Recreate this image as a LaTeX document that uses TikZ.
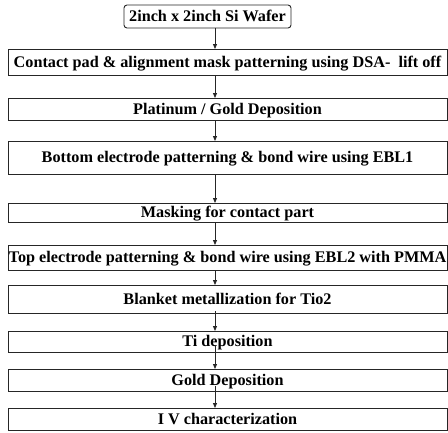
\documentclass[tikz,border=0pt]{standalone}
\usepackage{fontspec}
\setmainfont{Liberation Serif}
\usetikzlibrary{arrows.meta,calc}
\begin{document}
\begin{tikzpicture}[x=1pt,y=-1pt,
  every node/.style={font=\fontsize{16.2}{19}\selectfont\bfseries},
  stepbox/.style={draw=black!85, line width=0.9pt, inner sep=0pt, outer sep=0pt,
    minimum width=439pt, text height=10.7pt, text depth=0pt, align=center},
  startbox/.style={stepbox, minimum width=167pt, rounded corners=3pt},
  arr/.style={draw=black!85, line width=0.8pt, -{Triangle[length=5pt,width=4pt]}}]
\useasboundingbox (0,0) rectangle (448,432);
\coordinate (ax) at (215,0);
\node[startbox, minimum height=23pt] (wafer) at (207.5,16.5) {2inch x 2inch Si Wafer};
\node[stepbox, minimum height=26pt] (contact) at (227.5,62) {Contact pad \& alignment mask patterning using DSA-\ \ lift off};
\node[stepbox, minimum height=22pt] (plat) at (227.5,109) {Platinum / Gold Deposition};
\node[stepbox, minimum height=33pt] (bottom) at (227.5,157.5) {Bottom electrode patterning \& bond wire using EBL1};
\node[stepbox, minimum height=19pt] (mask) at (227.5,212.5) {Masking for contact part};
\node[stepbox, minimum height=25pt] (top) at (227.5,257.5) {Top electrode patterning \& bond wire using EBL2 with PMMA};
\node[stepbox, minimum height=28pt] (blanket) at (227.5,299) {Blanket metallization for Tio2};
\node[stepbox, minimum height=21pt] (ti) at (227.5,341.5) {Ti deposition};
\node[stepbox, minimum height=22pt] (gold) at (227.5,380) {Gold Deposition};
\node[stepbox, minimum height=22pt] (iv) at (227.5,419) {I V characterization};
\draw[arr] (wafer.south -| ax) -- (contact.north -| ax);
\draw[arr] (contact.south -| ax) -- (plat.north -| ax);
\draw[arr] (plat.south -| ax) -- (bottom.north -| ax);
\draw[arr] (bottom.south -| ax) -- (mask.north -| ax);
\draw[arr] (mask.south -| ax) -- (top.north -| ax);
\draw[arr] (top.south -| ax) -- (blanket.north -| ax);
\draw[arr] ($(blanket.south -| ax)+(0,-2)$) -- (ti.north -| ax);
\draw[arr] ($(ti.south -| ax)+(0,-7)$) -- (gold.north -| ax);
\draw[arr] ($(gold.south -| ax)+(0,-5)$) -- (iv.north -| ax);
\end{tikzpicture}
\end{document}
